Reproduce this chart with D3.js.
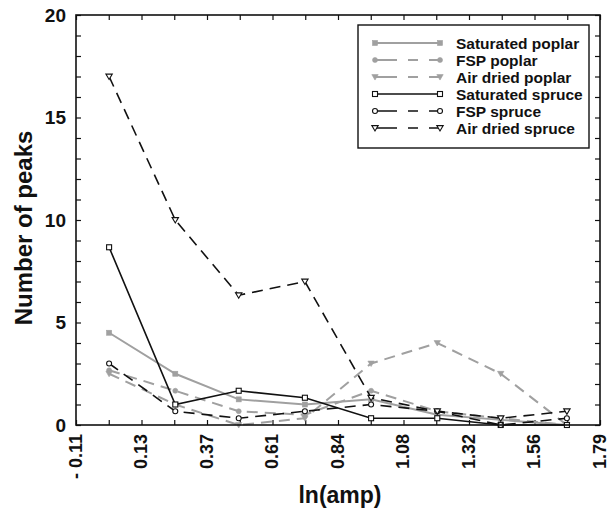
<!DOCTYPE html>
<html>
<head>
<meta charset="utf-8">
<script src="https://cdn.jsdelivr.net/npm/d3@7/dist/d3.min.js"></script>
<style>
  html, body { margin: 0; padding: 0; background: #fff; }
  svg { display: block; font-family: "Liberation Sans", Arial, Helvetica, sans-serif; font-weight: bold; }
</style>
</head>
<body>
<svg id="chart" width="609" height="509"></svg>
<script>
// Bin centres of ln(amplitude)
const xValues = [0.01, 0.25, 0.48, 0.72, 0.96, 1.20, 1.43, 1.67];

// Number of peaks per bin for each wood condition
const saturatedPoplar = [4.5, 2.5, 1.25, 1.0, 1.25, 0.5, 0.25, 0];
const fspPoplar       = [2.67, 1.67, 0.67, 0.5, 1.67, 0.67, 0.33, 0];
const airDriedPoplar  = [2.5, 1.0, 0, 0.33, 3.0, 4.0, 2.5, 0];
const saturatedSpruce = [8.67, 1.0, 1.67, 1.33, 0.33, 0.33, 0, 0];
const fspSpruce       = [3.0, 0.67, 0.33, 0.67, 1.0, 0.67, 0, 0.33];
const airDriedSpruce  = [17, 10, 6.33, 7, 1.33, 0.67, 0.33, 0.67];

const seriesNames = ["Saturated poplar", "FSP poplar", "Air dried poplar",
                     "Saturated spruce", "FSP spruce", "Air dried spruce"];

// Axis tick labels
const xTickLabels = ["- 0.11", "0.13", "0.37", "0.61", "0.84", "1.08", "1.32", "1.56", "1.79"];
const yTickLabels = ["0", "5", "10", "15", "20"];

const GRAY = "#a0a0a0";
const series = [
  { name: seriesNames[0], values: saturatedPoplar, color: GRAY, dash: null,   marker: "square",   filled: true,  width: 2 },
  { name: seriesNames[1], values: fspPoplar,       color: GRAY, dash: "11,7", marker: "circle",   filled: true,  width: 2 },
  { name: seriesNames[2], values: airDriedPoplar,  color: GRAY, dash: "11,7", marker: "triangle", filled: true,  width: 2 },
  { name: seriesNames[3], values: saturatedSpruce, color: "#111", dash: null,   marker: "square",   filled: false, width: 1.6 },
  { name: seriesNames[4], values: fspSpruce,       color: "#111", dash: "11,7", marker: "circle",   filled: false, width: 1.6 },
  { name: seriesNames[5], values: airDriedSpruce,  color: "#111", dash: "11,7", marker: "triangle", filled: false, width: 1.6 }
];

const svg = d3.select("#chart");
const margin = { left: 76, right: 9, top: 15, bottom: 84 };
const W = 609, H = 509;
const x0 = margin.left, x1 = W - margin.right, y0 = margin.top, y1 = H - margin.bottom;

const xMin = -0.11, xMax = 1.79;
const x = d3.scaleLinear().domain([xMin, xMax]).range([x0, x1]);
const y = d3.scaleLinear().domain([0, 20]).range([y1, y0]);

const xMajor = d3.range(9).map(i => xMin + i * (xMax - xMin) / 8);
const xMinor = d3.range(17).map(i => xMin + i * (xMax - xMin) / 16);
const yMajor = yTickLabels.map(Number);
const yMinor = d3.range(0, 21, 1);

const TICK = 5;

// Inward ticks on all four sides
svg.append("g").attr("transform", `translate(0,${y1})`)
  .call(d3.axisBottom(x).tickValues(xMinor).tickSize(-TICK).tickFormat(""))
  .call(g => g.select(".domain").remove());
svg.append("g").attr("transform", `translate(0,${y0})`)
  .call(d3.axisTop(x).tickValues(xMinor).tickSize(-TICK).tickFormat(""))
  .call(g => g.select(".domain").remove());
svg.append("g").attr("transform", `translate(${x0},0)`)
  .call(d3.axisLeft(y).tickValues(yMinor).tickSize(-TICK).tickFormat(""))
  .call(g => g.select(".domain").remove());
svg.append("g").attr("transform", `translate(${x1},0)`)
  .call(d3.axisRight(y).tickValues(yMinor).tickSize(-TICK).tickFormat(""))
  .call(g => g.select(".domain").remove());
svg.selectAll(".tick line").attr("stroke", "#111").attr("stroke-width", 1.2);

// X tick labels, rotated
const xAxis = svg.append("g").attr("transform", `translate(0,${y1})`)
  .call(d3.axisBottom(x).tickValues(xMajor).tickSize(0).tickFormat((d, i) => xTickLabels[i]))
  .call(g => g.select(".domain").remove());
xAxis.selectAll("text")
  .attr("transform", "rotate(-90)")
  .attr("x", -9).attr("y", 0).attr("dy", "0.28em")
  .attr("text-anchor", "end")
  .attr("fill", "#111")
  .style("font-size", "18px").style("font-weight", "bold")
  .style("font-family", "'Liberation Sans', Arial, sans-serif");

// Y tick labels
const yAxis = svg.append("g").attr("transform", `translate(${x0},0)`)
  .call(d3.axisLeft(y).tickValues(yMajor).tickSize(0).tickPadding(10).tickFormat((d, i) => yTickLabels[i]))
  .call(g => g.select(".domain").remove());
yAxis.selectAll("text")
  .attr("fill", "#111")
  .style("font-size", "19px").style("font-weight", "bold")
  .style("font-family", "'Liberation Sans', Arial, sans-serif");

// Axis titles
svg.append("text")
  .attr("transform", `translate(32,${(y0 + y1) / 2 + 8}) rotate(-90)`)
  .attr("text-anchor", "middle")
  .attr("fill", "#111")
  .style("font-size", "24px")
  .text("Number of peaks");
svg.append("text")
  .attr("x", 340).attr("y", 503)
  .attr("text-anchor", "middle")
  .attr("fill", "#111")
  .style("font-size", "23px")
  .text("ln(amp)");

// Marker drawing
function drawMarker(sel, s, cx, cy) {
  const fill = s.filled ? s.color : "#fff";
  const stroke = s.color;
  if (s.marker === "square") {
    const a = 5;
    sel.append("rect").attr("x", cx - a / 2).attr("y", cy - a / 2).attr("width", a).attr("height", a)
      .attr("fill", fill).attr("stroke", stroke).attr("stroke-width", s.filled ? 0.6 : 1.1);
  } else if (s.marker === "circle") {
    sel.append("circle").attr("cx", cx).attr("cy", cy).attr("r", 2.5)
      .attr("fill", fill).attr("stroke", stroke).attr("stroke-width", s.filled ? 0.6 : 1.1);
  } else {
    const r = 3.2;
    sel.append("path")
      .attr("d", `M${cx - r},${cy - r * 0.75}L${cx + r},${cy - r * 0.75}L${cx},${cy + r * 0.95}Z`)
      .attr("fill", fill).attr("stroke", stroke).attr("stroke-width", s.filled ? 0.6 : 1.1);
  }
}

const line = d3.line().x(d => x(d[0])).y(d => y(d[1]));
const plot = svg.append("g");
series.forEach(s => {
  const pts = xValues.map((xv, i) => [xv, s.values[i]]);
  plot.append("path").attr("d", line(pts))
    .attr("fill", "none").attr("stroke", s.color).attr("stroke-width", s.width)
    .attr("stroke-dasharray", s.dash);
  const mg = plot.append("g");
  pts.forEach(p => drawMarker(mg, s, x(p[0]), y(p[1])));
});

// Plot frame
svg.append("rect").attr("x", x0).attr("y", y0).attr("width", x1 - x0).attr("height", y1 - y0)
  .attr("fill", "none").attr("stroke", "#111").attr("stroke-width", 1.6);

// Legend
const lg = svg.append("g");
lg.append("rect").attr("x", 358).attr("y", 25).attr("width", 231).attr("height", 123)
  .attr("fill", "#fff").attr("stroke", "#111").attr("stroke-width", 1.4);
series.forEach((s, i) => {
  const ly = 43 + i * 17;
  lg.append("line").attr("x1", 375).attr("x2", 440).attr("y1", ly).attr("y2", ly)
    .attr("stroke", s.color).attr("stroke-width", s.width)
    .attr("stroke-dasharray", s.dash ? "22,11,10,11,20" : null);
  drawMarker(lg, s, 375, ly);
  drawMarker(lg, s, 440, ly);
  lg.append("text").attr("x", 456).attr("y", ly).attr("dy", "0.36em")
    .attr("fill", "#111").style("font-size", "15.5px").text(s.name);
});
</script>
</body>
</html>
